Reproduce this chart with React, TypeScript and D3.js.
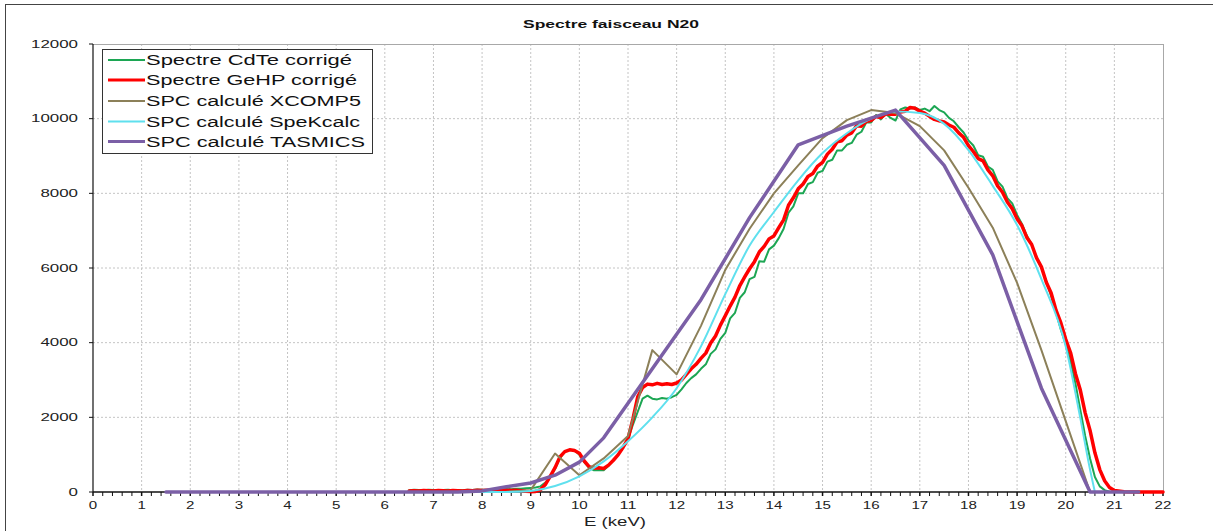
import React from "react";
import * as d3 from "d3";

// ---------- DATA ----------
const title = "Spectre faisceau N20";
const xAxisTitle = "E (keV)";
const xTicks = [0, 1, 2, 3, 4, 5, 6, 7, 8, 9, 10, 11, 12, 13, 14, 15, 16, 17, 18, 19, 20, 21, 22];
const yTicks = [0, 2000, 4000, 6000, 8000, 10000, 12000];

const seriesNames = [
  "Spectre CdTe corrigé",
  "Spectre GeHP corrigé",
  "SPC calculé XCOMP5",
  "SPC calculé SpeKcalc",
  "SPC calculé TASMICS",
];

// measured spectra sampled every 0.1 keV from 6.5 to 21.0 keV
const specE = d3.range(65, 211).map((i) => i / 10);

const cdteValues = [
  50, 60, 55, 50, 60, 55, 45, 55, 60, 50,
  55, 50, 60, 55, 65, 60, 55, 70, 65, 75,
  80, 75, 90, 85, 100, 110, 120, 150, 250, 400,
  620, 900, 1080, 1130, 1120, 1000, 800, 650, 580, 590,
  580, 700, 850, 1000, 1200, 1400, 1800, 2150, 2500, 2580,
  2500, 2480, 2520, 2500, 2540, 2600, 2750, 2920, 3050, 3150,
  3300, 3420, 3700, 3820, 4100, 4260, 4650, 4800, 5200, 5350,
  5700, 5760, 6180, 6170, 6500, 6600, 6800, 7050, 7480, 7650,
  8000, 8000, 8250, 8300, 8550, 8600, 8850, 8900, 9150, 9150,
  9300, 9350, 9570, 9650, 9900, 9900, 10100, 9980, 10130, 10020,
  9950, 10250, 10300, 10270, 10300, 10230, 10270, 10200, 10340, 10230,
  10170, 10020, 9930, 9770, 9630, 9420, 9280, 9020, 8980, 8720,
  8630, 8320, 8180, 7870, 7730, 7420, 7180, 6870, 6630, 6270,
  6000, 5650, 5250, 4800, 4350, 3950, 3500, 2900, 2200, 1500,
  900, 400, 150, 50, 10, 0,
];

const gehpValues = [
  30, 35, 30, 40, 35, 30, 40, 35, 30, 40,
  35, 30, 40, 35, 45, 40, 45, 40, 50, 45,
  50, 40, 45, 35, 20, 10, 15, 60, 200, 420,
  650, 940, 1080, 1130, 1110, 1040, 830, 680, 640, 650,
  630, 720, 850, 1000, 1200, 1420, 1950, 2550, 2800, 2890,
  2870, 2910, 2880, 2900, 2880, 2920, 3000, 3150, 3300, 3420,
  3580, 3720, 3990, 4180, 4470, 4720, 4980, 5220, 5530, 5760,
  5980, 6170, 6430, 6580, 6780, 6860, 7080, 7290, 7680, 7880,
  8120, 8250, 8450, 8530, 8730, 8830, 9050, 9180, 9380, 9410,
  9560, 9620, 9810, 9800, 9930, 9950, 10060, 10030, 10130, 10120,
  10120, 10180, 10200, 10300, 10280, 10200, 10150, 10060, 9980, 9940,
  9910, 9830, 9770, 9620, 9500, 9280, 9120, 8930, 8870, 8630,
  8470, 8200, 8030, 7770, 7590, 7320, 7130, 6820, 6630, 6270,
  6030, 5620, 5330, 4870, 4530, 4090, 3730, 3170, 2730, 2120,
  1650, 1050, 600, 300, 120, 40,
];
const gehpTailE = [21.2, 21.5, 22.0];
const gehpTailValues = [10, 0, 0];

const xcompE = [1.5, 8.5, 9.0, 9.5, 10.0, 10.5, 11.0, 11.5, 12.0, 12.5, 13.0, 13.5, 14.0, 14.5, 15.0, 15.5, 16.0, 16.5, 17.0, 17.5, 18.0, 18.5, 19.0, 19.5, 20.0, 20.5];
const xcompValues = [0, 10, 50, 1030, 450, 900, 1500, 3800, 3150, 4450, 5950, 7050, 8000, 8750, 9480, 9960, 10230, 10150, 9800, 9150, 8150, 7080, 5600, 3800, 1900, 0];

const spekE = [1.5, 8.5, 9.0, 9.5, 10.0, 10.5, 11.0, 11.5, 12.0, 12.5, 13.0, 13.5, 14.0, 14.5, 15.0, 15.5, 16.0, 16.5, 17.0, 17.5, 18.0, 18.5, 19.0, 19.5, 20.0, 20.3, 20.5, 20.6];
const spekValues = [0, 0, 30, 160, 420, 820, 1360, 2000, 2780, 3900, 5300, 6600, 7500, 8350, 9080, 9610, 10000, 10190, 10150, 9860, 9160, 8200, 7150, 5700, 3900, 1980, 600, 0];

const tasmicsE = [1.5, 7.5, 8.0, 8.5, 9.0, 9.5, 10.0, 10.5, 11.5, 12.5, 13.5, 14.5, 15.5, 16.5, 17.5, 18.5, 19.5, 20.5, 21.5];
const tasmicsValues = [0, 0, 30, 140, 240, 450, 800, 1450, 3300, 5150, 7350, 9300, 9800, 10230, 8750, 6350, 2780, 0, 0];

// ---------- LAYOUT ----------
const W = 1213;
const H = 531;
const X0 = 93;
const X1 = 1163;
const Y0 = 492;
const Y1 = 44;
const FONT = "'Liberation Sans', Arial, sans-serif";

const colors = ["#1ca653", "#ff0000", "#8c8059", "#5fe0ee", "#7b5fa6"];
const widths = [2, 3.5, 2, 2, 3.5];

const x = d3.scaleLinear().domain([0, 22]).range([X0, X1]);
const y = d3.scaleLinear().domain([0, 12000]).range([Y0, Y1]);

const zip = (es: number[], vs: number[]) => es.map((e, i) => [e, vs[i]] as [number, number]);

const seriesData: [number, number][][] = [
  zip(specE, cdteValues),
  zip(specE, gehpValues).concat(zip(gehpTailE, gehpTailValues)),
  zip(xcompE, xcompValues),
  zip(spekE, spekValues),
  zip(tasmicsE, tasmicsValues),
];

const linearLine = d3
  .line<[number, number]>()
  .x((d) => x(d[0]))
  .y((d) => y(d[1]));
const smoothLine = d3
  .line<[number, number]>()
  .x((d) => x(d[0]))
  .y((d) => y(d[1]))
  .curve(d3.curveMonotoneX);

const minorTicks = d3.range(0, 111).map((i) => i / 5);

const legendLabelWidths = [206, 211, 215, 214, 219];
const legendBaselines = [65, 85, 106, 126.5, 146.5];

export default function App() {
  return (
    <svg
      width={W}
      height={H}
      style={{ position: "absolute", left: 0, top: 0, background: "#fff" }}
      fontFamily={FONT}
    >
      <rect x={0} y={0} width={W} height={H} fill="#fff" />
      <rect x={5.5} y={4.5} width={1230} height={560} fill="none" stroke="#444" strokeWidth={1} />

      {/* title */}
      <text x={523} y={28} fontSize={11} fontWeight="bold" textLength={176} lengthAdjust="spacingAndGlyphs" fill="#111">
        {title}
      </text>

      {/* grid */}
      {yTicks.slice(1, -1).map((t) => (
        <line key={"gy" + t} x1={X0} x2={X1} y1={y(t)} y2={y(t)} stroke="#c4c4c4" strokeDasharray="2,2" strokeWidth={1} />
      ))}
      {xTicks.slice(1, -1).map((t) => (
        <line key={"gx" + t} x1={x(t)} x2={x(t)} y1={Y1} y2={Y0} stroke="#c4c4c4" strokeDasharray="2,2" strokeWidth={1} />
      ))}
      <line x1={X0} x2={X1} y1={Y1 + 0.5} y2={Y1 + 0.5} stroke="#a8a8a8" strokeWidth={1} />
      <line x1={X1 + 0.5} x2={X1 + 0.5} y1={Y1} y2={Y0} stroke="#a8a8a8" strokeWidth={1} />

      {/* axes */}
      <line x1={X0} x2={X0} y1={Y1} y2={Y0} stroke="#111" strokeWidth={1.2} />
      {yTicks.map((t) => (
        <g key={"yt" + t}>
          <line x1={X0 - 4} x2={X0} y1={y(t)} y2={y(t)} stroke="#111" strokeWidth={1} />
          <text
            x={78 - 9.4 * String(t).length}
            y={y(t) + 3.5}
            fontSize={10}
            textLength={9.4 * String(t).length}
            lengthAdjust="spacingAndGlyphs"
            fill="#222"
          >
            {t}
          </text>
        </g>
      ))}
      <line x1={X0} x2={X1} y1={Y0} y2={Y0} stroke="#111" strokeWidth={1.5} />
      {minorTicks.map((t) => (
        <line key={"mt" + t} x1={x(t)} x2={x(t)} y1={Y0} y2={Y0 + 4} stroke="#111" strokeWidth={Number.isInteger(t) ? 1.5 : 1} />
      ))}
      {xTicks.map((t) => {
        const w = 8.4 * String(t).length;
        return (
          <text
            key={"xt" + t}
            x={x(t) - w / 2}
            y={508.5}
            fontSize={10}
            textLength={w}
            lengthAdjust="spacingAndGlyphs"
            fill="#222"
          >
            {t}
          </text>
        );
      })}
      <text x={584} y={525.5} fontSize={12} textLength={62} lengthAdjust="spacingAndGlyphs" fill="#222">
        {xAxisTitle}
      </text>

      {/* series */}
      <defs>
        <clipPath id="plotclip">
          <rect x={X0} y={Y1 - 2} width={X1 - X0 + 2} height={Y0 - Y1 + 4} />
        </clipPath>
      </defs>
      <g clipPath="url(#plotclip)">
        {seriesData.map((d, i) => (
          <path
            key={"s" + i}
            d={(i === 3 ? smoothLine(d) : linearLine(d)) || ""}
            fill="none"
            stroke={colors[i]}
            strokeWidth={widths[i]}
            strokeLinejoin="round"
            strokeLinecap="round"
          />
        ))}
      </g>

      {/* legend */}
      <rect x={102.5} y={49.5} width={270} height={104} fill="#fff" stroke="#333" strokeWidth={1} />
      {seriesNames.map((name, i) => (
        <g key={"lg" + i}>
          <line
            x1={108}
            x2={145}
            y1={legendBaselines[i] - 5}
            y2={legendBaselines[i] - 5}
            stroke={colors[i]}
            strokeWidth={i === 1 || i === 4 ? 3 : 2}
          />
          <text
            x={146}
            y={legendBaselines[i]}
            fontSize={14}
            textLength={legendLabelWidths[i]}
            lengthAdjust="spacingAndGlyphs"
            fill="#111"
          >
            {name}
          </text>
        </g>
      ))}
    </svg>
  );
}
